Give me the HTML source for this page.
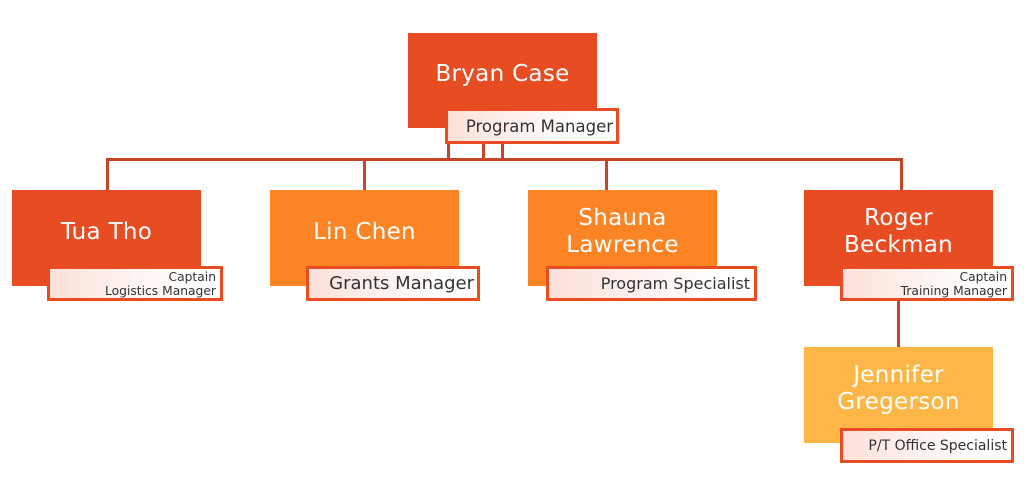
<!DOCTYPE html>
<html><head><style>
body{margin:0;width:1024px;height:488px;background:#fff;position:relative;overflow:hidden;font-family:"DejaVu Sans","Liberation Sans",sans-serif}
.b{position:absolute;color:#fff;display:flex;align-items:center;justify-content:center;text-align:center;font-size:23px;line-height:27px;letter-spacing:0.3px}
.l{position:absolute;box-sizing:border-box;border:3px solid #e84c22;background:linear-gradient(90deg,#fbe1d9,#fff 80%);color:#333;text-align:right;padding-right:4px;font-size:15px;display:flex;flex-direction:column;justify-content:center;align-items:flex-end;white-space:nowrap}
.s{font-size:12.3px;line-height:14px}
.ln{position:absolute;background:#c3452a}
.r{background:#e84c22}.o{background:#fd8424}.y{background:#feb747}
</style></head><body>
<div class="ln" style="left:106px;top:158px;width:797px;height:3px"></div>
<div class="ln" style="left:447px;top:140px;width:3px;height:20px"></div>
<div class="ln" style="left:482px;top:140px;width:3px;height:20px"></div>
<div class="ln" style="left:501px;top:140px;width:3px;height:20px"></div>
<div class="ln" style="left:106px;top:158px;width:3px;height:33px"></div>
<div class="ln" style="left:363px;top:158px;width:3px;height:33px"></div>
<div class="ln" style="left:605px;top:158px;width:3px;height:33px"></div>
<div class="ln" style="left:900px;top:158px;width:3px;height:33px"></div>
<div class="ln" style="left:897px;top:298px;width:3px;height:50px"></div>

<div class="b r" style="left:408px;top:33px;width:189px;height:95px;padding-bottom:12px;box-sizing:border-box">Bryan Case</div>
<div class="l" style="left:445px;top:108px;width:174px;height:36px;font-size:16.5px;padding-right:3px">Program Manager</div>

<div class="b r" style="left:12px;top:190px;width:189px;height:96px;padding-bottom:12px;box-sizing:border-box">Tua Tho</div>
<div class="l s" style="left:47px;top:266px;width:176px;height:35px"><div>Captain</div><div>Logistics Manager</div></div>

<div class="b o" style="left:270px;top:190px;width:189px;height:96px;padding-bottom:12px;box-sizing:border-box">Lin Chen</div>
<div class="l" style="left:306px;top:266px;width:174px;height:35px;font-size:18px;padding-right:3px">Grants Manager</div>

<div class="b o" style="left:528px;top:190px;width:189px;height:96px;padding-bottom:12px;box-sizing:border-box">Shauna<br>Lawrence</div>
<div class="l" style="left:546px;top:266px;width:211px;height:35px;font-size:16px">Program Specialist</div>

<div class="b r" style="left:804px;top:190px;width:189px;height:96px;padding-bottom:12px;box-sizing:border-box">Roger<br>Beckman</div>
<div class="l s" style="left:840px;top:266px;width:174px;height:35px"><div>Captain</div><div>Training Manager</div></div>

<div class="b y" style="left:804px;top:347px;width:189px;height:96px;padding-bottom:12px;box-sizing:border-box">Jennifer<br>Gregerson</div>
<div class="l" style="left:840px;top:428px;width:174px;height:35px;font-size:14px">P/T Office Specialist</div>
</body></html>
